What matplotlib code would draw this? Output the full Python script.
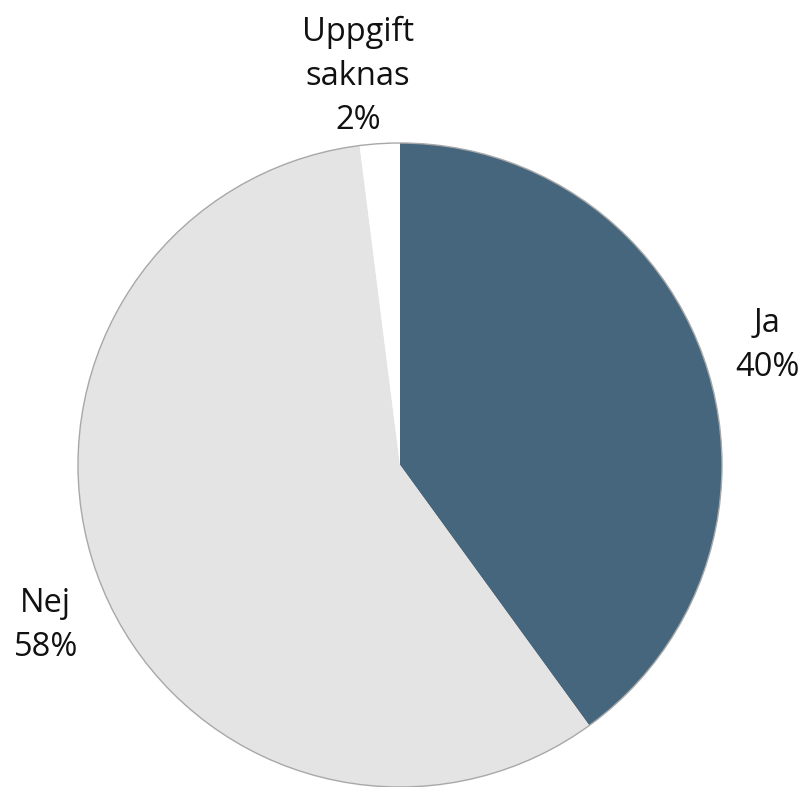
import matplotlib
matplotlib.use("Agg")
import matplotlib.pyplot as plt
from matplotlib.patches import Circle

categories = ["Ja", "Nej", "Uppgift\nsaknas"]
values = [40, 58, 2]
colors = ["#46667D", "#E4E4E4", "#FFFFFF"]

plt.rcParams['font.family'] = ['Open Sans', 'DejaVu Sans']

W, H = 799, 787
fig = plt.figure(figsize=(W / 100, H / 100), dpi=100)
ax = fig.add_axes([0, 0, 1, 1])

cx, cy, r = 400, H - 465, 322
labels = [f"{c}\n{v}%" for c, v in zip(categories, values)]
wedges, texts = ax.pie(values, colors=colors, startangle=90, counterclock=False,
                       center=(cx, cy), radius=r, labels=labels, labeldistance=1.2,
                       wedgeprops=dict(edgecolor='none', linewidth=0),
                       textprops=dict(fontsize=23.5, color='#111111'), frame=True)
# small offsets (pixels) to match label placement
offsets = [(0, 0), (5, -18), (-18, 3)]
for t, (dx, dy) in zip(texts, offsets):
    x, y = t.get_position()
    t.set_position((x + dx, y + dy))
    t.set_ha('center')
    t.set_va('center')
    t.set_linespacing(1.45)
ax.add_patch(Circle((cx, cy), r, fill=False, edgecolor='#A8A8A8', linewidth=1.0))
ax.set_xlim(0, W)
ax.set_ylim(0, H)
ax.set_aspect('equal')
ax.axis('off')

fig.savefig("out.png", dpi=100)
